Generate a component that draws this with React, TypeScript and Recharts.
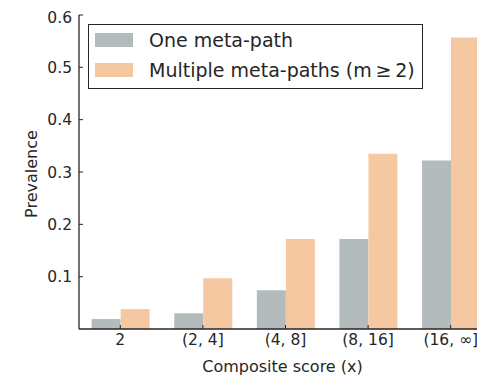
import React from 'react';
import { BarChart, Bar, XAxis, YAxis, Legend, Label } from 'recharts';

const categories = ['2', '(2, 4]', '(4, 8]', '(8, 16]', '(16, ∞]'];
const onePath = [0.019, 0.030, 0.074, 0.172, 0.322];
const multiPath = [0.038, 0.097, 0.172, 0.335, 0.557];
const yTicks = [0.1, 0.2, 0.3, 0.4, 0.5, 0.6];
const seriesNames = ['One meta-path', 'Multiple meta-paths (m\u2009\u2265\u20092)'];

const GRAY = '#b3bbbc';
const ORANGE = '#f6c8a1';
const INK = '#262626';
const FONT = '"DejaVu Sans", sans-serif';

const data = categories.map((c, i) => ({ cat: c, one: onePath[i], multi: multiPath[i] }));

const LegendBox = () => (
  <div
    style={{
      border: `1.3px solid ${INK}`,
      background: '#fff',
      padding: '0px 8px 3px 6px',
      fontFamily: FONT,
      fontSize: 19,
      color: INK,
      width: 335,
      boxSizing: 'border-box',
    }}
  >
    {[GRAY, ORANGE].map((c, i) => (
      <div key={i} style={{ display: 'flex', alignItems: 'center', height: 30 }}>
        <span style={{ display: 'inline-block', width: 38, height: 14, background: c, marginRight: 16, flex: 'none' }} />
        <span style={{ whiteSpace: 'nowrap', lineHeight: '30px' }}>{seriesNames[i]}</span>
      </div>
    ))}
  </div>
);

export default function App() {
  return (
    <div style={{ width: 477, height: 368, overflow: 'hidden' }}>
      <BarChart
        width={500}
        height={368}
        data={data}
        margin={{ top: 7, right: 16, bottom: 0, left: 0 }}
        barCategoryGap="15.3%"
        barGap={0}
      >
        <XAxis
          dataKey="cat"
          height={47}
          axisLine={{ stroke: INK, strokeWidth: 1.3 }}
          tickLine={{ stroke: INK }}
          tickSize={-4}
          tickMargin={9}
          tick={{ fill: INK, fontSize: 15.5, fontFamily: FONT }}
          interval={0}
        >
          <Label
            value="Composite score (x)"
            position="insideBottom"
            offset={4}
            dx={-3}
            style={{ fill: INK, fontSize: 16, fontFamily: FONT }}
          />
        </XAxis>
        <XAxis
          xAxisId="top"
          dataKey="cat"
          orientation="top"
          height={0}
          axisLine={{ stroke: INK, strokeWidth: 1.3 }}
          tickLine={{ stroke: INK }}
          tickSize={-4}
          tickFormatter={() => ''}
          interval={0}
        />
        <YAxis
          width={71}
          domain={[0, 0.6]}
          ticks={yTicks}
          allowDataOverflow
          axisLine={{ stroke: INK, strokeWidth: 1.3 }}
          tickLine={{ stroke: INK }}
          tickSize={-4}
          tickMargin={11}
          tick={{ fill: INK, fontSize: 15.5, fontFamily: FONT }}
          tickFormatter={(v: number) => v.toFixed(1)}
        >
          <Label
            value="Prevalence"
            angle={-90}
            position="center"
            dx={-12}
            dy={2}
            style={{ fill: INK, fontSize: 16, fontFamily: FONT }}
          />
        </YAxis>
        <Legend
          layout="vertical"
          align="center"
          verticalAlign="middle"
          wrapperStyle={{ position: 'absolute', top: 16, left: 80, width: 'auto' }}
          content={() => <LegendBox />}
        />
        <Bar dataKey="one" name={seriesNames[0]} fill={GRAY} isAnimationActive={false} />
        <Bar dataKey="multi" name={seriesNames[1]} fill={ORANGE} isAnimationActive={false} />
      </BarChart>
    </div>
  );
}
